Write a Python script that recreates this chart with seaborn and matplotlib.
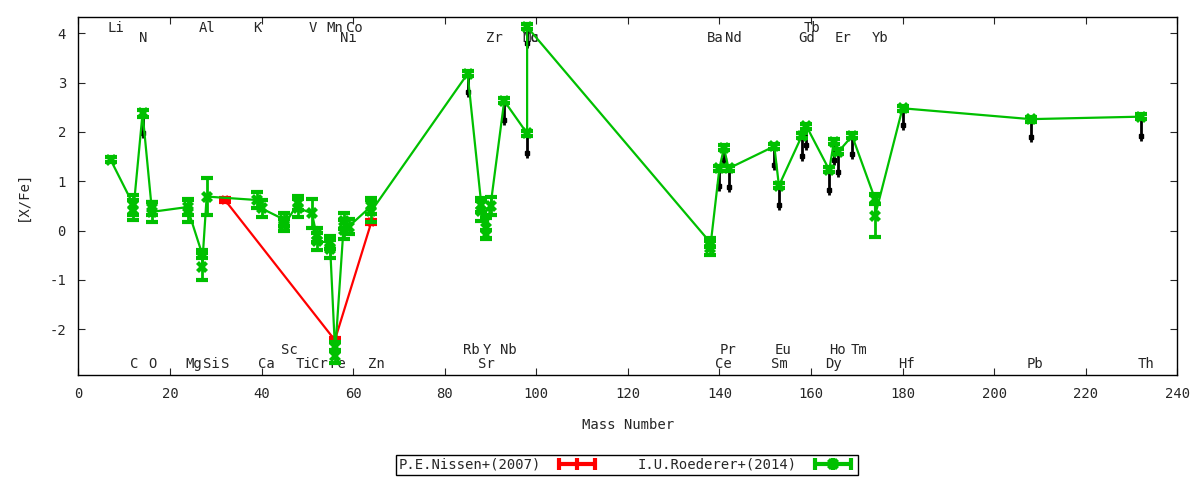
import numpy as np
import pandas as pd
import matplotlib
matplotlib.use("Agg")
import matplotlib.pyplot as plt
from matplotlib.lines import Line2D
from matplotlib.legend_handler import HandlerLine2D, HandlerTuple
import seaborn as sns

# I.U.Roederer+(2014) values, in file order
green_mass = [7, 12, 12, 14, 16, 16, 24, 24, 27, 27, 28, 39, 40, 45, 45, 48, 48, 51,
              52, 52, 55, 55, 56, 56, 58, 58, 59, 64, 64, 85, 88, 88, 89, 89, 90, 93,
              98, 98, 138, 138, 140, 141, 142, 152, 153, 158, 159, 164, 165, 166, 169,
              174, 174, 180, 208, 232]
green_val = [1.44, 0.52, 0.42, 2.38, 0.45, 0.38, 0.48, 0.40, -0.47, -0.73, 0.69, 0.62,
             0.45, 0.22, 0.12, 0.56, 0.46, 0.35, -0.09, -0.22, -0.24, -0.38, -2.35,
             -2.55, 0.20, 0.02, 0.08, 0.50, 0.40, 3.18, 0.52, 0.40, 0.05, -0.08, 0.50,
             2.63, 1.97, 4.13, -0.24, -0.35, 1.26, 1.68, 1.26, 1.71, 0.91, 1.92, 2.12,
             1.23, 1.80, 1.60, 1.92, 0.64, 0.30, 2.48, 2.26, 2.31]
green_err = [0.05, 0.20, 0.20, 0.07, 0.14, 0.20, 0.16, 0.22, 0.08, 0.27, 0.37, 0.17,
             0.17, 0.13, 0.12, 0.14, 0.18, 0.30, 0.14, 0.17, 0.13, 0.18, 0.10, 0.13,
             0.16, 0.20, 0.15, 0.16, 0.22, 0.05, 0.15, 0.20, 0.20, 0.10, 0.18, 0.05,
             0.05, 0.05, 0.09, 0.14, 0.05, 0.05, 0.05, 0.05, 0.05, 0.05, 0.05, 0.05,
             0.05, 0.05, 0.05, 0.10, 0.42, 0.05, 0.05, 0.05]

# P.E.Nissen+(2007)
red_mass = [32, 56, 64]
red_val = [0.62, -2.22, 0.18]
red_err = [0.04, 0.04, 0.04]

# black lower marks hanging below some points
black_mass = [14, 85, 93, 98, 98, 140, 141, 142, 152, 153, 158, 159, 164, 165, 166,
              169, 180, 208, 232]
black_from = [2.38, 3.18, 2.63, 1.97, 4.13, 1.26, 1.68, 1.26, 1.71, 0.91, 1.92, 2.12,
              1.23, 1.80, 1.60, 1.92, 2.48, 2.26, 2.31]
black_val = [1.98, 2.80, 2.25, 1.58, 3.80, 0.90, 1.43, 0.88, 1.33, 0.52, 1.52, 1.73,
             0.83, 1.43, 1.19, 1.55, 2.14, 1.89, 1.92]

# element labels (centre position, level)
label_names = ["Li", "Al", "K", "V", "Mn", "Co", "Tb",
               "N", "Ni", "Zr", "Mo", "Tc", "Ba", "Nd", "Gd", "Er", "Yb",
               "Sc", "Rb", "Y", "Nb", "Pr", "Eu", "Ho", "Tm",
               "C", "O", "Mg", "Si", "S", "Ca", "Ti", "Cr", "Fe", "Zn", "Sr", "Ce",
               "Sm", "Dy", "Hf", "Pb", "Th"]
label_x = [8.1, 28.0, 39.0, 51.1, 55.9, 60.2, 160.2,
           14.2, 59.0, 90.9, 98.9, 98.9, 139.0, 143.0, 159.0, 167.1, 175.0,
           46.0, 85.9, 89.3, 94.0, 141.8, 154.0, 165.8, 170.4,
           12.2, 16.2, 25.1, 29.1, 32.1, 41.1, 49.3, 52.7, 56.7, 65.1, 89.1, 140.9,
           153.2, 165.0, 180.9, 209.0, 233.1]
label_y = [4.11] * 7 + [3.91] * 10 + [-2.42] * 8 + [-2.70] * 17

green = "#00c000"
red = "#ff0000"

sns.set_style("ticks")
plt.rcParams["font.family"] = ["DejaVu Sans Mono", "DejaVu Sans"]
plt.rcParams["axes.unicode_minus"] = False

fig = plt.figure(figsize=(12, 4.8), dpi=100)
ax = fig.add_axes([0.0654, 0.219, 0.9156, 0.745])

green_df = pd.DataFrame({"mass": green_mass, "xfe": green_val})
red_df = pd.DataFrame({"mass": red_mass, "xfe": red_val})

# black marks underneath
ax.vlines(black_mass, black_from, np.array(black_val) - 0.1, color="black", lw=2, zorder=1)
ax.plot(black_mass, black_val, ls="none", marker="s", ms=3, color="black", zorder=1)

ax.errorbar(red_mass, red_val, yerr=red_err, fmt="none", ecolor=red, elinewidth=2,
            capsize=4, capthick=3, zorder=2)
sns.lineplot(data=red_df, x="mass", y="xfe", sort=False, estimator=None, color=red,
             lw=1.6, marker="X", markersize=7, markeredgewidth=0, ax=ax, zorder=2)

ax.errorbar(green_mass, green_val, yerr=green_err, fmt="none", ecolor=green,
            elinewidth=2, capsize=4.5, capthick=3, zorder=3)
sns.lineplot(data=green_df, x="mass", y="xfe", sort=False, estimator=None, color=green,
             lw=1.6, marker="X", markersize=8, markeredgewidth=0, ax=ax, zorder=3)

for name, lx, ly in zip(label_names, label_x, label_y):
    ax.text(lx, ly, name, ha="center", va="center", fontsize=10, zorder=0)

ax.set_xlim(0, 240)
ax.set_ylim(-2.925, 4.325)
ax.set_xticks(range(0, 241, 20))
ax.set_yticks(range(-2, 5))
ax.tick_params(direction="in", top=True, right=True, length=5, labelsize=10, pad=9)
for sp in ax.spines.values():
    sp.set_linewidth(1)
    sp.set_color("black")
ax.set_xlabel("Mass Number", fontsize=10, labelpad=12)
ax.set_ylabel("[X/Fe]", fontsize=10, labelpad=14)

# legend in gnuplot style: text first, then sample
red_bar = Line2D([], [], color=red, lw=3, marker="|", ms=9, mew=3)
green_bar = Line2D([], [], color=green, lw=3, marker="|", ms=9, mew=3)
green_pt = Line2D([], [], color=green, lw=0, marker="X", ms=8, mew=0)
fig.legend([red_bar, (green_bar, green_pt)],
           ["P.E.Nissen+(2007)", "I.U.Roederer+(2014)"],
           handler_map={green_pt: HandlerLine2D(numpoints=1), tuple: HandlerTuple(ndivide=1)},
           numpoints=3, loc="center", bbox_to_anchor=(627 / 1200, 1 - 465 / 480),
           ncol=2, markerfirst=False, fancybox=False, framealpha=1, edgecolor="black",
           fontsize=10, handlelength=3.2, borderpad=0.2, columnspacing=2.8,
           handletextpad=1.0, borderaxespad=0)

fig.savefig("out.png", dpi=100)
